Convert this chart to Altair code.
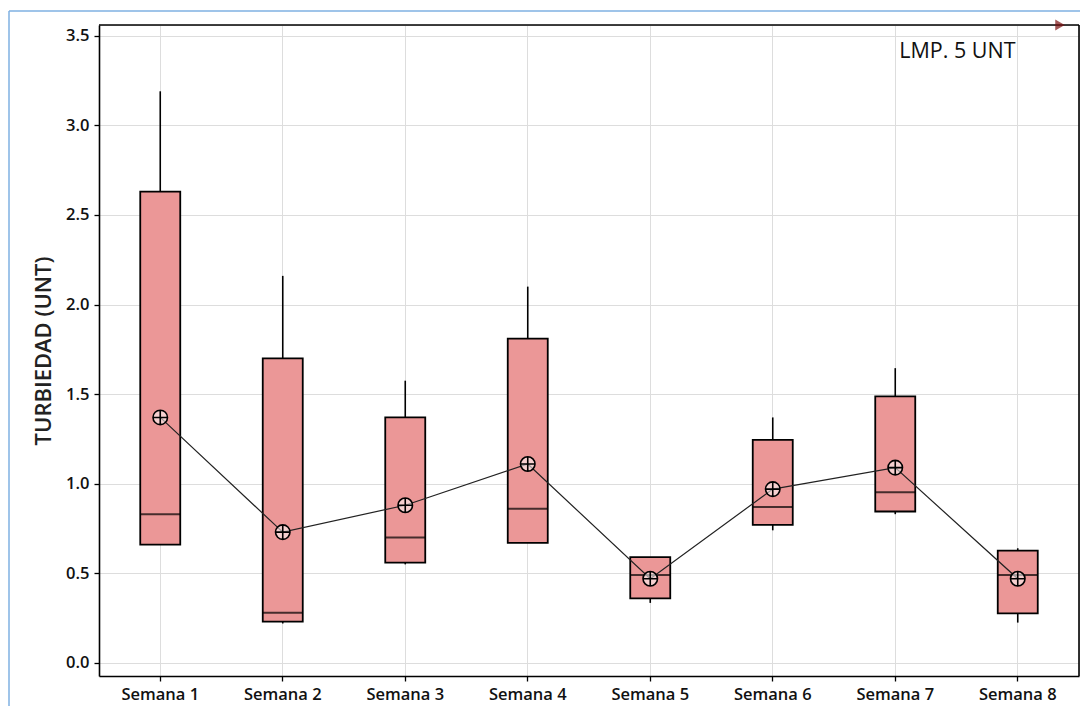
import altair as alt
import pandas as pd

semanas = ["Semana 1", "Semana 2", "Semana 3", "Semana 4",
           "Semana 5", "Semana 6", "Semana 7", "Semana 8"]
whisker_low = [0.66, 0.22, 0.55, 0.67, 0.335, 0.74, 0.83, 0.225]
q1 = [0.66, 0.23, 0.56, 0.67, 0.36, 0.77, 0.845, 0.277]
median = [0.83, 0.28, 0.70, 0.86, 0.49, 0.87, 0.953, 0.49]
q3 = [2.63, 1.70, 1.37, 1.81, 0.59, 1.245, 1.487, 0.627]
whisker_high = [3.19, 2.16, 1.575, 2.10, 0.59, 1.37, 1.645, 0.64]
mean = [1.37, 0.73, 0.88, 1.11, 0.47, 0.97, 1.09, 0.47]
y_ticks = [0.0, 0.5, 1.0, 1.5, 2.0, 2.5, 3.0, 3.5]
note_text = "LMP. 5 UNT"

df = pd.DataFrame({
    "semana": semanas, "wlo": whisker_low, "q1": q1, "med": median,
    "q3": q3, "whi": whisker_high, "mean": mean,
})

FONT = "Open Sans"
W, H = 980, 651

x_enc = alt.X("semana:N", sort=semanas,
              scale=alt.Scale(paddingInner=0, paddingOuter=0),
              axis=alt.Axis(title=None, labelAngle=0, grid=True,
                            labelFontSize=16.5, labelFont=FONT, labelColor="#111",
                            labelFontWeight=600,
                            labelPadding=5, tickSize=5, tickColor="black",
                            tickWidth=1.3, domainColor="black", domainWidth=1.6))
y_scale = alt.Scale(domain=[-0.073, 3.56], nice=False, zero=False)
y_axis = alt.Axis(title="TURBIEDAD (UNT)", values=y_ticks, format=".1f",
                  labelFontSize=16.5, labelFont=FONT, labelColor="#111",
                  labelFontWeight=600,
                  labelPadding=5, tickSize=5, tickColor="black", tickWidth=1.3,
                  domainColor="black", domainWidth=1.6,
                  titleFont=FONT, titleFontSize=22, titleFontWeight=600,
                  titleColor="#222", titlePadding=10, grid=True)

base = alt.Chart(df)

whisk_low = base.mark_rule(color="black", strokeWidth=1.6).encode(
    x=x_enc, y=alt.Y("wlo:Q", scale=y_scale, axis=y_axis), y2="q1:Q")
whisk_high = base.mark_rule(color="black", strokeWidth=1.6).encode(
    x=x_enc, y=alt.Y("q3:Q", scale=y_scale, axis=y_axis), y2="whi:Q")
boxes = base.mark_bar(width=40, fill="#eb9797", stroke="black",
                      strokeWidth=1.8).encode(
    x=x_enc, y=alt.Y("q1:Q", scale=y_scale, axis=y_axis), y2="q3:Q")
medians = base.mark_tick(orient="horizontal", size=40, thickness=2,
                         color="black").encode(
    x=x_enc, y=alt.Y("med:Q", scale=y_scale, axis=y_axis))
mean_line = base.mark_line(color="#222", strokeWidth=1.2).encode(
    x=x_enc, y=alt.Y("mean:Q", scale=y_scale, axis=y_axis), order="semana:N")
mean_pts = base.mark_point(
    shape="M -1 0 A 1 1 0 1 1 1 0 A 1 1 0 1 1 -1 0 M -1 0 L 1 0 M 0 -1 L 0 1",
    size=210, filled=False, stroke="black", strokeWidth=1.6,
    fill="white", fillOpacity=0.55, opacity=1).encode(
    x=x_enc, y=alt.Y("mean:Q", scale=y_scale, axis=y_axis))

note = alt.Chart(pd.DataFrame({"semana": ["Semana 7"], "y": [3.41],
                               "t": [note_text]})).mark_text(
    align="left", baseline="middle", dx=4, fontSize=21.5, font=FONT,
    color="#111").encode(
    x=alt.X("semana:N", sort=semanas), y=alt.Y("y:Q", scale=y_scale), text="t:N")

one = pd.DataFrame({"a": [1]})
frame_top = alt.Chart(one).mark_rule(color="black", strokeWidth=1.6).encode(
    x=alt.value(0), x2=alt.value(W), y=alt.value(0))
frame_right = alt.Chart(one).mark_rule(color="black", strokeWidth=1.6).encode(
    x=alt.value(W), y=alt.value(0), y2=alt.value(H))
arrow = alt.Chart(one).mark_point(
    shape="triangle-right", filled=True, color="#7a1010", size=120).encode(
    x=alt.value(961), y=alt.value(0))

border_left = alt.Chart(one).mark_rule(
    color="#7fb0e2", strokeWidth=1.5).encode(
    x=alt.value(-90), y=alt.value(-14), y2=alt.value(700))
border_top = alt.Chart(one).mark_rule(
    color="#7fb0e2", strokeWidth=1.5).encode(
    x=alt.value(-90), x2=alt.value(1000), y=alt.value(-14))

chart = alt.layer(
    whisk_low, whisk_high, boxes, medians, mean_line, mean_pts, note,
    frame_top, frame_right, arrow, border_left, border_top
).properties(
    width=W, height=H,
    autosize=alt.AutoSizeParams(type="none"),
    padding={"left": 91, "top": 17, "right": 1, "bottom": 30},
).configure_view(
    stroke="black", strokeWidth=1.5
).configure_axis(
    gridColor="#bdbdbd", gridWidth=1.8
).configure(background="white")

chart.save("out.html", embed_options={"renderer": "svg", "actions": False})
